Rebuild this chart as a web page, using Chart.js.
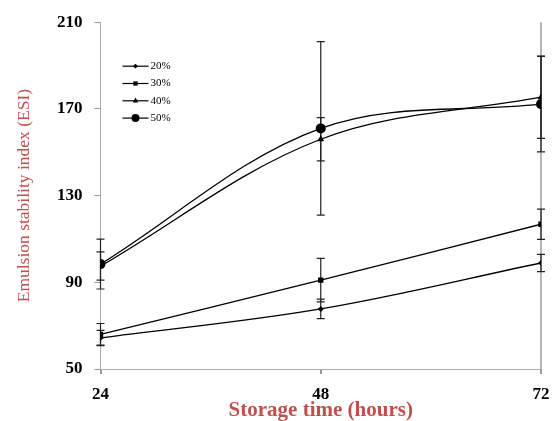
<!DOCTYPE html>
<html>
<head>
<meta charset="utf-8">
<script src="https://cdn.jsdelivr.net/npm/chart.js@4.4.0/dist/chart.umd.min.js"></script>
<style>
  html, body { margin: 0; padding: 0; background: #fff; }
  #grafica { display: block; }
</style>
</head>
<body>
<canvas id="grafica" width="557" height="421"></canvas>
<script>
// Datos
const horas = [24, 48, 72];
const etiquetasY = [50, 90, 130, 170, 210];
const serie20 = [64.3, 77.7, 98.9];
const serie30 = [66, 91, 116.8];
const serie40 = [97.5, 156, 175.4];
const serie50 = [98.4, 161, 172.2];
const error20 = [3.5, 4.5, 4];
const error30 = [5, 10, 7];
const error40 = [6.5, 10, 19];
const error50 = [11.5, 40, 22];

const nombres = ['20%', '30%', '40%', '50%'];
const marcas = ['rectRot', 'rect', 'triangle', 'circle'];
const radios = [3, 3.8, 4, 5];

const ROJO = '#c0504d';
const SERIF = '"Liberation Serif", "Times New Roman", serif';

function crearSerie(i, valores, errores) {
    return {
        label: nombres[i],
        data: horas.map((h, k) => ({ x: h, y: valores[k], err: errores[k] })),
        borderColor: '#000',
        backgroundColor: '#000',
        borderWidth: 1.3,
        pointStyle: marcas[i],
        pointRadius: radios[i],
        pointBorderWidth: 0,
        tension: 0.35,
        fill: false
    };
}

// barras de error en pixeles de las escalas
const barrasError = {
    id: 'barrasError',
    beforeDatasetsDraw(chart) {
        const { ctx, scales: { x, y } } = chart;
        ctx.save();
        ctx.strokeStyle = '#222';
        ctx.lineWidth = 1.2;
        chart.data.datasets.forEach(ds => {
            ds.data.forEach(p => {
                const px = x.getPixelForValue(p.x);
                const arriba = y.getPixelForValue(p.y + p.err);
                const abajo = y.getPixelForValue(p.y - p.err);
                ctx.beginPath();
                ctx.moveTo(px, arriba); ctx.lineTo(px, abajo);
                ctx.moveTo(px - 4, arriba); ctx.lineTo(px + 4, arriba);
                ctx.moveTo(px - 4, abajo); ctx.lineTo(px + 4, abajo);
                ctx.stroke();
            });
        });
        ctx.restore();
    }
};

// leyenda tipo Excel: linea con marcador
const leyenda = {
    id: 'leyenda',
    afterDraw(chart) {
        const { ctx, chartArea } = chart;
        const x0 = chartArea.left + 22;
        let y0 = chartArea.top + 44;
        ctx.save();
        chart.data.datasets.forEach((ds, i) => {
            ctx.strokeStyle = '#000';
            ctx.lineWidth = 1.2;
            ctx.beginPath();
            ctx.moveTo(x0, y0); ctx.lineTo(x0 + 26, y0);
            ctx.stroke();
            Chart.helpers.drawPoint(ctx, {
                pointStyle: ds.pointStyle, radius: ds.pointRadius * 0.8, borderWidth: 0
            }, x0 + 13, y0);
            ctx.fillStyle = '#000';
            ctx.font = '11px ' + SERIF;
            ctx.textBaseline = 'middle';
            ctx.fillText(ds.label, x0 + 28, y0);
            y0 += 17.3;
        });
        ctx.restore();
    }
};

new Chart(document.getElementById('grafica'), {
    type: 'line',
    data: {
        datasets: [
            crearSerie(0, serie20, error20),
            crearSerie(1, serie30, error30),
            crearSerie(2, serie40, error40),
            crearSerie(3, serie50, error50)
        ]
    },
    options: {
        responsive: false,
        animation: false,
        layout: { padding: { left: 14, top: 16, right: 16, bottom: 0 } },
        plugins: { legend: { display: false }, tooltip: { enabled: false } },
        scales: {
            x: {
                type: 'linear',
                min: horas[0],
                max: horas[horas.length - 1],
                afterBuildTicks: s => { s.ticks = horas.map(v => ({ value: v })); },
                afterFit: s => { s.height = 52; s.paddingRight = 0; },
                border: { color: '#aaa', width: 1 },
                grid: {
                    color: c => c.tick && c.tick.value === 72 ? '#b5b5b5' : 'rgba(0,0,0,0)',
                    lineWidth: 2,
                    tickColor: '#999',
                    tickLength: 5
                },
                ticks: {
                    color: '#000',
                    font: { family: SERIF, size: 17, weight: 'bold' },
                    padding: 10,
                    maxRotation: 0
                },
                title: {
                    display: true,
                    text: 'Storage time (hours)',
                    color: ROJO,
                    font: { family: SERIF, size: 21, weight: 'bold', lineHeight: 1 },
                    padding: { top: 0, bottom: 0 }
                }
            },
            y: {
                min: etiquetasY[0],
                max: etiquetasY[etiquetasY.length - 1],
                afterBuildTicks: s => { s.ticks = etiquetasY.map(v => ({ value: v })); },
                border: { color: '#aaa', width: 1 },
                grid: { color: 'rgba(0,0,0,0)', tickColor: '#999', tickLength: 6 },
                ticks: {
                    color: '#000',
                    font: { family: SERIF, size: 17, weight: 'bold' },
                    padding: 12
                },
                title: {
                    display: true,
                    text: 'Emulsion stability index (ESI)',
                    color: ROJO,
                    font: { family: SERIF, size: 17.5 },
                    padding: { top: 0, bottom: 10 }
                }
            }
        }
    },
    plugins: [barrasError, leyenda]
});
</script>
</body>
</html>
